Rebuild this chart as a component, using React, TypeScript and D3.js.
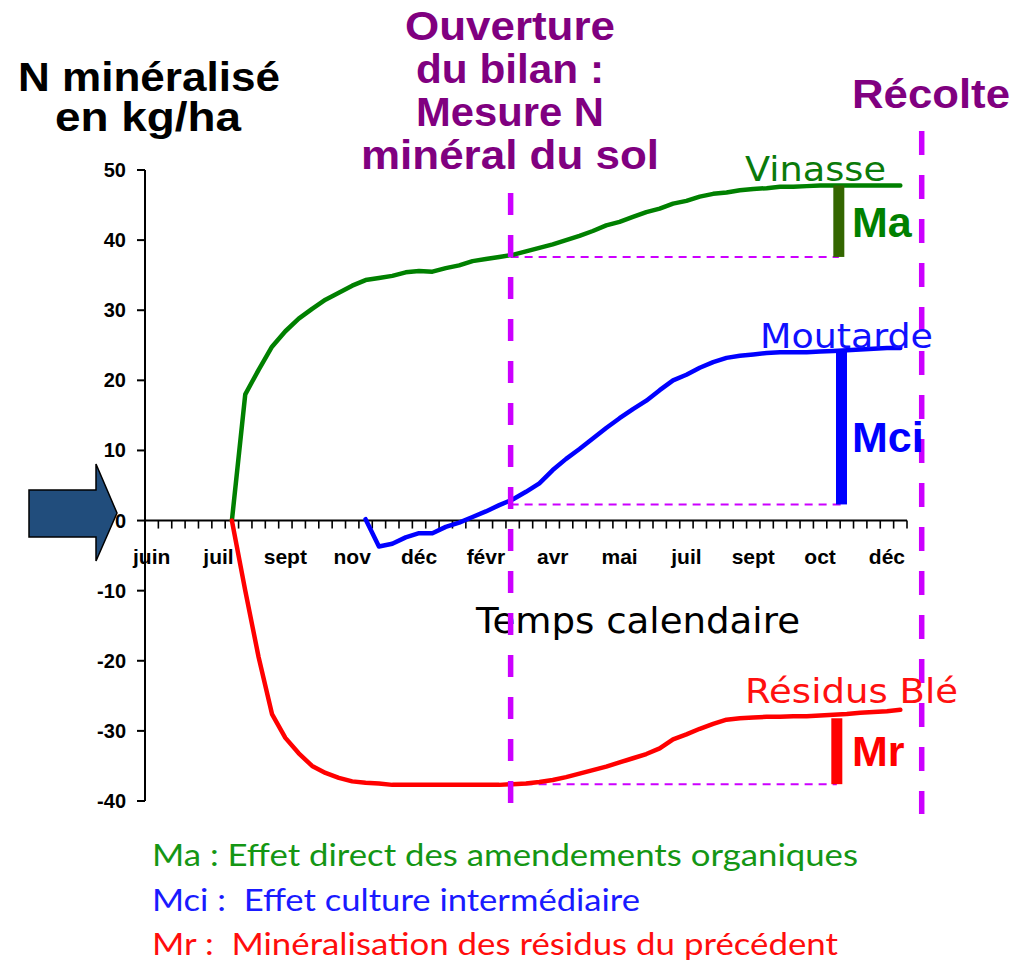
import React from "react";
import * as d3 from "d3";

// ---- data ----
const nCategories = 57;
const labelEvery = 5;
const xLabels = ["juin", "juil", "sept", "nov", "déc", "févr", "avr", "mai", "juil", "sept", "oct", "déc"];
const yTicks = [50, 40, 30, 20, 10, 0, -10, -20, -30, -40];

const vinasseStart = 6;
const vinasse = [0, 18, 21.5, 24.8, 27, 28.8, 30.2, 31.5, 32.5, 33.5, 34.3, 34.6, 34.9, 35.4, 35.6, 35.5, 36.0, 36.4, 37.0, 37.3, 37.6, 37.9, 38.4, 38.9, 39.4, 40.0, 40.6, 41.3, 42.1, 42.6, 43.3, 44.0, 44.5, 45.2, 45.6, 46.2, 46.6, 46.8, 47.1, 47.3, 47.4, 47.6, 47.6, 47.7, 47.8, 47.8, 47.8, 47.8, 47.8, 47.8, 47.8];

const moutardeStart = 16;
const moutarde = [0.2, -3.7, -3.3, -2.4, -1.8, -1.8, -0.9, -0.3, 0.5, 1.3, 2.2, 3.0, 4.1, 5.3, 7.2, 8.8, 10.2, 11.7, 13.2, 14.6, 15.9, 17.1, 18.6, 20.0, 20.8, 21.8, 22.6, 23.2, 23.5, 23.7, 23.9, 24.0, 24.0, 24.0, 24.1, 24.2, 24.3, 24.4, 24.5, 24.6, 24.6];

const residusStart = 6;
const residus = [0, -10, -19.5, -27.6, -31.0, -33.2, -35.0, -36.0, -36.7, -37.2, -37.4, -37.5, -37.7, -37.7, -37.7, -37.7, -37.7, -37.7, -37.7, -37.7, -37.7, -37.6, -37.5, -37.3, -37.0, -36.6, -36.1, -35.6, -35.1, -34.5, -33.9, -33.3, -32.5, -31.2, -30.5, -29.7, -29.0, -28.4, -28.2, -28.1, -28.0, -28.0, -27.9, -27.9, -27.8, -27.7, -27.6, -27.4, -27.3, -27.2, -27.0];

// bilan opening (category position) and harvest position
const bilanPos = 27.35;
const recoltePos = 58.1;
const bilanValues = [37.6, 2.3, -37.6];
const endValues = [47.8, 24.4, -28.2];
const barPositions = [51.9, 52.1, 51.75];
const barLabels = ["Ma", "Mci", "Mr"];
const seriesNames = ["Vinasse", "Moutarde", "Résidus Blé"];
const titleLines = ["Ouverture", "du bilan :", "Mesure N", "minéral du sol"];
const legendLines = [
  "Ma : Effet direct des amendements organiques",
  "Mci :  Effet culture intermédiaire",
  "Mr :  Minéralisation des résidus du précédent",
];

export default function App() {
  const x = d3.scaleLinear().domain([0, nCategories]).range([145, 907]);
  const y = d3.scaleLinear().domain([-40, 50]).range([801, 170]);
  const cx = (i: number) => x(i + 0.5);

  const mk = (vals: number[], start: number) =>
    d3
      .line<number>()
      .x((_, i) => cx(start + i))
      .y((d) => y(d))(vals) as string;

  const series = [
    { vals: vinasse, start: vinasseStart, color: "#008000" },
    { vals: moutarde, start: moutardeStart, color: "#0000ff" },
    { vals: residus, start: residusStart, color: "#ff0000" },
  ];
  const barColors = ["#336600", "#0000ff", "#ff0000"];
  const labelColors = ["#008000", "#0000ff", "#ff0000"];
  const nameColors = ["#0a7a0a", "#1010ff", "#ff1010"];
  const nameX = [745, 760, 745];
  const nameY = [181, 348, 703];
  const nameW = [141, 173, 213];
  const barLabelY = [237, 452, 766];
  const legendColors = ["#149614", "#1a1aff", "#ff0d0d"];
  const legendW = [706, 488, 686];
  const titleW = [210, 188, 188, 298];

  const bold = "'Liberation Sans', Arial, sans-serif";
  const purple = "#800080";
  const violet = "#cc00ff";

  const xb = x(bilanPos);
  const xr = x(recoltePos);

  return (
    <svg
      width={1022}
      height={964}
      style={{ position: "absolute", left: 0, top: 0, background: "#fff" }}
    >
      {/* titles */}
      <text x={18} y={91} fontFamily={bold} fontWeight="bold" fontSize={40} textLength={262} lengthAdjust="spacingAndGlyphs" fill="#000">N minéralisé</text>
      <text x={148} y={131} textAnchor="middle" fontFamily={bold} fontWeight="bold" fontSize={40} textLength={186} lengthAdjust="spacingAndGlyphs" fill="#000">en kg/ha</text>
      {titleLines.map((t, i) => (
        <text key={i} x={510} y={40 + i * 43} textAnchor="middle" fontFamily={bold} fontWeight="bold" fontSize={40} textLength={titleW[i]} lengthAdjust="spacingAndGlyphs" fill={purple}>{t}</text>
      ))}
      <text x={931} y={108} textAnchor="middle" fontFamily={bold} fontWeight="bold" fontSize={41} textLength={158} lengthAdjust="spacingAndGlyphs" fill={purple}>Récolte</text>

      {/* arrow */}
      <polygon
        points="29,490 96,490 96,464 117,513 96,561 96,537 29,537"
        fill="#214d7c"
        stroke="#000"
        strokeWidth={1.5}
      />

      {/* y axis */}
      <line x1={x(0)} x2={x(0)} y1={y(50)} y2={y(-40)} stroke="#000" strokeWidth={2} />
      {yTicks.map((t) => (
        <g key={t}>
          <line x1={x(0) - 8} x2={x(0)} y1={y(t)} y2={y(t)} stroke="#000" strokeWidth={2} />
          <text x={126} y={y(t) + 7} textAnchor="end" fontFamily={bold} fontWeight="bold" fontSize={20} fill="#000">{t}</text>
        </g>
      ))}

      {/* x axis */}
      <line x1={x(0)} x2={x(nCategories)} y1={y(0)} y2={y(0)} stroke="#000" strokeWidth={2} />
      {d3.range(nCategories + 1).map((i) => (
        <line key={i} x1={x(i)} x2={x(i)} y1={y(0)} y2={y(0) + 8} stroke="#000" strokeWidth={1.6} />
      ))}
      {xLabels.map((l, k) => (
        <text key={k} x={cx(k * labelEvery)} y={564} textAnchor="middle" fontFamily={bold} fontWeight="bold" fontSize={21} fill="#000">{l}</text>
      ))}

      <text x={476} y={633} fontFamily="'DejaVu Sans', Verdana, sans-serif" fontSize={35} textLength={324} lengthAdjust="spacingAndGlyphs" fill="#000">Temps calendaire</text>

      {/* thin dashed reference lines */}
      {bilanValues.map((v, i) => (
        <line key={i} x1={xb} x2={x(barPositions[i])} y1={y(v)} y2={y(v)} stroke={violet} strokeWidth={2} strokeDasharray="8 6" />
      ))}

      {/* series */}
      {series.map((s, i) => (
        <path key={i} d={mk(s.vals, s.start)} fill="none" stroke={s.color} strokeWidth={4.5} strokeLinejoin="round" strokeLinecap="round" />
      ))}

      {/* vertical dashed lines */}
      <line x1={xb} x2={xb} y1={193} y2={805} stroke={violet} strokeWidth={5.5} strokeDasharray="22 20" />
      <line x1={xr} x2={xr} y1={131} y2={814} stroke={violet} strokeWidth={5.5} strokeDasharray="24 20" />

      {/* series names */}
      {seriesNames.map((n, i) => (
        <text key={i} x={nameX[i]} y={nameY[i]} fontFamily="'DejaVu Sans', Verdana, sans-serif" fontSize={34} textLength={nameW[i]} lengthAdjust="spacingAndGlyphs" fill={nameColors[i]}>{n}</text>
      ))}

      {/* M bars */}
      {barLabels.map((b, i) => (
        <g key={b}>
          <rect x={x(barPositions[i]) - 5.5} width={11} y={y(endValues[i])} height={y(bilanValues[i]) - y(endValues[i])} fill={barColors[i]} />
          <text x={852} y={barLabelY[i]} fontFamily={bold} fontWeight="bold" fontSize={43} fill={labelColors[i]}>{b}</text>
        </g>
      ))}

      {/* legend */}
      {legendLines.map((t, i) => (
        <text key={i} x={152} y={866 + i * 44.5} fontFamily="Lato, 'Open Sans', sans-serif" fontSize={31} textLength={legendW[i]} lengthAdjust="spacingAndGlyphs" style={{ whiteSpace: "pre" }} fill={legendColors[i]}>{t}</text>
      ))}
    </svg>
  );
}
